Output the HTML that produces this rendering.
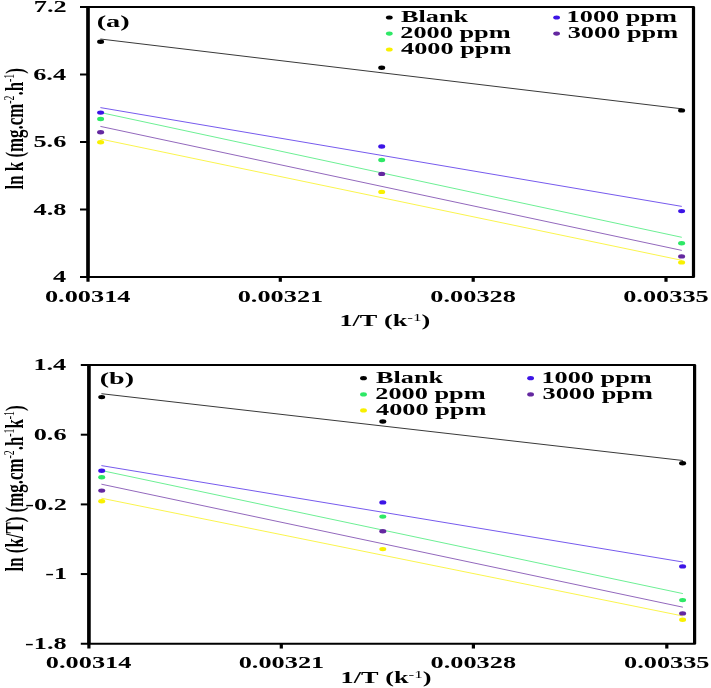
<!DOCTYPE html>
<html><head><meta charset="utf-8"><style>
html,body{margin:0;padding:0;background:#fff;}
svg{display:block;filter:blur(0.3px);}
text{font-family:"Liberation Serif",serif;font-kerning:none;fill:#000;}
</style></head><body>
<svg width="711" height="688" viewBox="0 0 711 688">
<rect width="711" height="688" fill="#fff"/>
<g transform="scale(1.6,1)"><path d="M55.000,7.00 H433.438 V277.00 H55.000 Z" fill="none" stroke="#000" stroke-width="2.0" stroke-linejoin="round"/><path d="M55.000,7.00 V281.80" fill="none" stroke="#000" stroke-width="2.0"/><path d="M50.000,7.00 H55.000" fill="none" stroke="#000" stroke-width="2.0"/><path d="M50.000,74.50 H55.000" fill="none" stroke="#000" stroke-width="2.0"/><path d="M50.000,142.00 H55.000" fill="none" stroke="#000" stroke-width="2.0"/><path d="M50.000,209.50 H55.000" fill="none" stroke="#000" stroke-width="2.0"/><path d="M50.000,277.00 H55.000" fill="none" stroke="#000" stroke-width="2.0"/><path d="M175.188,277.00 V281.80" fill="none" stroke="#000" stroke-width="2.0"/><path d="M295.750,277.00 V281.80" fill="none" stroke="#000" stroke-width="2.0"/><path d="M416.250,277.00 V281.80" fill="none" stroke="#000" stroke-width="2.0"/></g>
<text transform="translate(33.83,12.40) scale(1.615,1)" font-size="16.3" font-weight="bold">7.2</text>
<text transform="translate(33.18,79.90) scale(1.615,1)" font-size="16.3" font-weight="bold">6.4</text>
<text transform="translate(33.47,147.40) scale(1.615,1)" font-size="16.3" font-weight="bold">5.6</text>
<text transform="translate(33.57,214.90) scale(1.615,1)" font-size="16.3" font-weight="bold">4.8</text>
<text transform="translate(52.93,282.40) scale(1.615,1)" font-size="16.3" font-weight="bold">4</text>
<text transform="translate(44.97,301.50) scale(1.615,1)" font-size="16.3" font-weight="bold">0.00314</text>
<text transform="translate(237.70,301.50) scale(1.615,1)" font-size="16.3" font-weight="bold">0.00321</text>
<text transform="translate(430.36,301.50) scale(1.615,1)" font-size="16.3" font-weight="bold">0.00328</text>
<text transform="translate(623.20,301.50) scale(1.615,1)" font-size="16.3" font-weight="bold">0.00335</text>
<text transform="translate(339.39,325.90) scale(1.615,1)" font-size="16.3" font-weight="bold"><tspan>1/T (k</tspan><tspan font-size="10.60" font-weight="normal" dy="-5.38">-1</tspan><tspan dy="5.38">)</tspan></text>
<text transform="translate(23.20,189.53) rotate(-90) scale(1,1.5443786982248522)" font-size="16.9" font-weight="bold"><tspan>ln k (mg.cm</tspan><tspan font-size="9.80" font-weight="normal" dy="-6.08">-2</tspan><tspan dy="6.08">.h</tspan><tspan font-size="9.80" font-weight="normal" dy="-6.08">-1</tspan><tspan dy="6.08">)</tspan></text>
<text transform="translate(96.65,27.00) scale(1.74,1)" font-size="16.3" font-weight="bold">(a)</text>
<text transform="translate(400.96,21.90) scale(1.615,1)" font-size="16.3" font-weight="bold">Blank</text>
<ellipse cx="389.30" cy="17.50" rx="3.4" ry="2.1" fill="#000000"/>
<text transform="translate(566.59,21.90) scale(1.615,1)" font-size="16.3" font-weight="bold">1000 ppm</text>
<ellipse cx="556.60" cy="17.50" rx="3.4" ry="2.1" fill="#3c14e6"/>
<text transform="translate(400.29,38.00) scale(1.615,1)" font-size="16.3" font-weight="bold">2000 ppm</text>
<ellipse cx="389.30" cy="33.60" rx="3.4" ry="2.1" fill="#2ee866"/>
<text transform="translate(567.71,38.00) scale(1.615,1)" font-size="16.3" font-weight="bold">3000 ppm</text>
<ellipse cx="556.60" cy="33.60" rx="3.4" ry="2.1" fill="#6428a0"/>
<text transform="translate(401.04,53.90) scale(1.615,1)" font-size="16.3" font-weight="bold">4000 ppm</text>
<ellipse cx="389.30" cy="49.50" rx="3.4" ry="2.1" fill="#f8f000"/>
<line x1="100.40" y1="39.00" x2="681.80" y2="108.80" stroke="#000000" stroke-width="1.0" stroke-opacity="0.78"/>
<line x1="100.40" y1="107.60" x2="681.80" y2="206.40" stroke="#3c14e6" stroke-width="1.0" stroke-opacity="0.7"/>
<line x1="100.40" y1="112.50" x2="681.80" y2="237.30" stroke="#2ee866" stroke-width="1.0" stroke-opacity="0.7"/>
<line x1="100.40" y1="126.40" x2="681.80" y2="250.40" stroke="#6428a0" stroke-width="1.0" stroke-opacity="0.7"/>
<line x1="100.40" y1="139.00" x2="681.80" y2="260.30" stroke="#f8f000" stroke-width="1.0" stroke-opacity="0.7"/>
<ellipse cx="100.60" cy="41.70" rx="3.5" ry="2.2" fill="#000000"/>
<ellipse cx="381.70" cy="67.80" rx="3.5" ry="2.2" fill="#000000"/>
<ellipse cx="681.60" cy="110.40" rx="3.5" ry="2.2" fill="#000000"/>
<ellipse cx="100.60" cy="112.60" rx="3.5" ry="2.2" fill="#3c14e6"/>
<ellipse cx="381.70" cy="146.50" rx="3.5" ry="2.2" fill="#3c14e6"/>
<ellipse cx="681.60" cy="211.10" rx="3.5" ry="2.2" fill="#3c14e6"/>
<ellipse cx="100.60" cy="119.00" rx="3.5" ry="2.2" fill="#2ee866"/>
<ellipse cx="381.70" cy="160.00" rx="3.5" ry="2.2" fill="#2ee866"/>
<ellipse cx="681.60" cy="243.30" rx="3.5" ry="2.2" fill="#2ee866"/>
<ellipse cx="100.60" cy="132.30" rx="3.5" ry="2.2" fill="#6428a0"/>
<ellipse cx="381.70" cy="173.90" rx="3.5" ry="2.2" fill="#6428a0"/>
<ellipse cx="681.60" cy="256.40" rx="3.5" ry="2.2" fill="#6428a0"/>
<ellipse cx="100.60" cy="142.20" rx="3.5" ry="2.2" fill="#f8f000"/>
<ellipse cx="381.70" cy="191.90" rx="3.5" ry="2.2" fill="#f8f000"/>
<ellipse cx="681.60" cy="262.40" rx="3.5" ry="2.2" fill="#f8f000"/>
<g transform="scale(1.6,1)"><path d="M55.562,365.00 H434.125 V643.75 H55.562 Z" fill="none" stroke="#000" stroke-width="2.0" stroke-linejoin="round"/><path d="M55.562,365.00 V648.55" fill="none" stroke="#000" stroke-width="2.0"/><path d="M50.500,365.00 H55.562" fill="none" stroke="#000" stroke-width="2.0"/><path d="M50.500,434.70 H55.562" fill="none" stroke="#000" stroke-width="2.0"/><path d="M50.500,504.40 H55.562" fill="none" stroke="#000" stroke-width="2.0"/><path d="M50.500,574.05 H55.562" fill="none" stroke="#000" stroke-width="2.0"/><path d="M50.500,643.75 H55.562" fill="none" stroke="#000" stroke-width="2.0"/><path d="M175.812,643.75 V648.55" fill="none" stroke="#000" stroke-width="2.0"/><path d="M295.875,643.75 V648.55" fill="none" stroke="#000" stroke-width="2.0"/><path d="M416.750,643.75 V648.55" fill="none" stroke="#000" stroke-width="2.0"/></g>
<text transform="translate(33.38,370.40) scale(1.615,1)" font-size="16.3" font-weight="bold">1.4</text>
<text transform="translate(33.67,440.10) scale(1.615,1)" font-size="16.3" font-weight="bold">0.6</text>
<text transform="translate(25.26,509.80) scale(1.615,1)" font-size="16.3" font-weight="bold">-0.2</text>
<text transform="translate(45.23,579.45) scale(1.615,1)" font-size="16.3" font-weight="bold">-1</text>
<text transform="translate(25.00,649.15) scale(1.615,1)" font-size="16.3" font-weight="bold">-1.8</text>
<text transform="translate(45.87,668.30) scale(1.615,1)" font-size="16.3" font-weight="bold">0.00314</text>
<text transform="translate(238.70,668.30) scale(1.615,1)" font-size="16.3" font-weight="bold">0.00321</text>
<text transform="translate(430.56,668.30) scale(1.615,1)" font-size="16.3" font-weight="bold">0.00328</text>
<text transform="translate(624.00,668.30) scale(1.615,1)" font-size="16.3" font-weight="bold">0.00335</text>
<text transform="translate(340.59,683.40) scale(1.615,1)" font-size="16.3" font-weight="bold"><tspan>1/T (k</tspan><tspan font-size="10.60" font-weight="normal" dy="-5.38">-1</tspan><tspan dy="5.38">)</tspan></text>
<text transform="translate(23.00,571.53) rotate(-90) scale(1,1.5443786982248522)" font-size="16.9" font-weight="bold"><tspan>ln (k/T) (mg.cm</tspan><tspan font-size="9.80" font-weight="normal" dy="-6.08">-2</tspan><tspan dy="6.08">.h</tspan><tspan font-size="9.80" font-weight="normal" dy="-6.08">-1</tspan><tspan dy="6.08">k</tspan><tspan font-size="9.80" font-weight="normal" dy="-6.08">-1</tspan><tspan dy="6.08">)</tspan></text>
<text transform="translate(99.77,384.00) scale(1.72,1)" font-size="16.3" font-weight="bold">(b)</text>
<text transform="translate(375.96,382.60) scale(1.615,1)" font-size="16.3" font-weight="bold">Blank</text>
<ellipse cx="363.50" cy="378.20" rx="3.4" ry="2.1" fill="#000000"/>
<text transform="translate(541.39,382.60) scale(1.615,1)" font-size="16.3" font-weight="bold">1000 ppm</text>
<ellipse cx="530.60" cy="378.20" rx="3.4" ry="2.1" fill="#3c14e6"/>
<text transform="translate(375.29,398.80) scale(1.615,1)" font-size="16.3" font-weight="bold">2000 ppm</text>
<ellipse cx="363.50" cy="394.40" rx="3.4" ry="2.1" fill="#2ee866"/>
<text transform="translate(542.51,398.80) scale(1.615,1)" font-size="16.3" font-weight="bold">3000 ppm</text>
<ellipse cx="530.60" cy="394.40" rx="3.4" ry="2.1" fill="#6428a0"/>
<text transform="translate(376.04,414.80) scale(1.615,1)" font-size="16.3" font-weight="bold">4000 ppm</text>
<ellipse cx="363.50" cy="410.40" rx="3.4" ry="2.1" fill="#f8f000"/>
<line x1="101.40" y1="393.70" x2="682.90" y2="460.50" stroke="#000000" stroke-width="1.0" stroke-opacity="0.78"/>
<line x1="101.40" y1="465.60" x2="682.90" y2="562.00" stroke="#3c14e6" stroke-width="1.0" stroke-opacity="0.7"/>
<line x1="101.40" y1="470.50" x2="682.90" y2="593.60" stroke="#2ee866" stroke-width="1.0" stroke-opacity="0.7"/>
<line x1="101.40" y1="484.20" x2="682.90" y2="607.20" stroke="#6428a0" stroke-width="1.0" stroke-opacity="0.7"/>
<line x1="101.40" y1="498.20" x2="682.90" y2="616.00" stroke="#f8f000" stroke-width="1.0" stroke-opacity="0.7"/>
<ellipse cx="101.70" cy="397.10" rx="3.5" ry="2.2" fill="#000000"/>
<ellipse cx="382.80" cy="421.50" rx="3.5" ry="2.2" fill="#000000"/>
<ellipse cx="682.60" cy="463.20" rx="3.5" ry="2.2" fill="#000000"/>
<ellipse cx="101.70" cy="470.70" rx="3.5" ry="2.2" fill="#3c14e6"/>
<ellipse cx="382.80" cy="502.40" rx="3.5" ry="2.2" fill="#3c14e6"/>
<ellipse cx="682.60" cy="566.40" rx="3.5" ry="2.2" fill="#3c14e6"/>
<ellipse cx="101.70" cy="477.20" rx="3.5" ry="2.2" fill="#2ee866"/>
<ellipse cx="382.80" cy="516.60" rx="3.5" ry="2.2" fill="#2ee866"/>
<ellipse cx="682.60" cy="600.10" rx="3.5" ry="2.2" fill="#2ee866"/>
<ellipse cx="101.70" cy="490.60" rx="3.5" ry="2.2" fill="#6428a0"/>
<ellipse cx="382.80" cy="531.30" rx="3.5" ry="2.2" fill="#6428a0"/>
<ellipse cx="682.60" cy="613.40" rx="3.5" ry="2.2" fill="#6428a0"/>
<ellipse cx="101.70" cy="501.20" rx="3.5" ry="2.2" fill="#f8f000"/>
<ellipse cx="382.80" cy="549.10" rx="3.5" ry="2.2" fill="#f8f000"/>
<ellipse cx="682.60" cy="619.80" rx="3.5" ry="2.2" fill="#f8f000"/>
</svg>
</body></html>
